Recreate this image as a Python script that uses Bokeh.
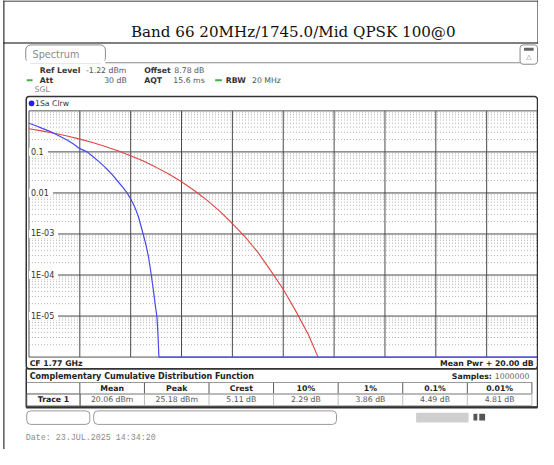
from bokeh.plotting import figure
from bokeh.models import Range1d, LogScale, LinearScale
from bokeh.core.properties import value
from bokeh.embed import file_html
from bokeh.resources import INLINE

# ---------------- data ----------------
title_text = "Band 66 20MHz/1745.0/Mid QPSK 100@0"

# measured trace (blue): x = dB above mean power, y = probability
blue_db = [0.0, 0.25, 0.5, 0.75, 1.0, 1.25, 1.5, 1.75, 2.0, 2.29, 2.5, 2.75,
           3.0, 3.25, 3.5, 3.7, 3.86, 4.0, 4.15, 4.3, 4.49, 4.6, 4.7, 4.81,
           4.9, 4.97, 5.03, 5.07, 5.11, 20.0]
blue_ccdf = [0.50, 0.44, 0.38, 0.33, 0.28, 0.235, 0.195, 0.155, 0.12, 0.10,
             0.078, 0.058, 0.042, 0.029, 0.019, 0.0135, 0.010, 0.0072, 0.0047,
             0.0027, 0.0010, 0.00055, 0.00028, 0.0001, 4.0e-5, 1.8e-5, 1.0e-5,
             4.0e-6, 1.0e-6, 1.0e-6]

# reference trace (red)
red_db = [0.0, 0.5, 1.0, 1.5, 2.0, 2.5, 3.0, 3.5, 4.0, 4.5, 5.0, 5.5, 6.0,
          6.5, 7.0, 7.5, 8.0, 8.5, 9.0, 9.5, 10.0, 10.5, 11.0, 11.37]
red_ccdf = [0.368, 0.326, 0.284, 0.243, 0.205, 0.169, 0.136, 0.107, 0.081,
            0.060, 0.042, 0.029, 0.0187, 0.0115, 0.0067, 0.0036, 0.0018,
            0.00085, 0.00036, 0.00013, 4.5e-5, 1.3e-5, 3.4e-6, 1.0e-6]

x_min_db, x_max_db = 0.0, 20.0
y_min_p, y_max_p = 1e-6, 1.0
x_grid_db = [2, 4, 6, 8, 10, 12, 14, 16, 18]
y_tick_values = [0.1, 0.01, 0.001, 0.0001, 0.00001]
y_tick_labels = ["0.1", "0.01", "1E-03", "1E-04", "1E-05"]

stat_headers = ["Mean", "Peak", "Crest", "10%", "1%", "0.1%", "0.01%"]
stat_values = ["20.06 dBm", "25.18 dBm", "5.11 dB", "2.29 dB", "3.86 dB",
               "4.49 dB", "4.81 dB"]

# ---------------- geometry ----------------
# the figure's own ranges are expressed in the reference's pixel units
W, H = 538, 449
RW, RH = 554, 465
FS = (W / RW + H / RH) / 2          # font scale
G_L, G_R, G_T, G_B = 29.3, 553.0, 114.3, 369.3   # grid area

p = figure(width=W, height=H, title=None,
           x_range=Range1d(0, RW), y_range=Range1d(RH, 0),
           x_axis_location=None, y_axis_location=None,
           toolbar_location=None, output_backend="svg", min_border=0,
           background_fill_color="white", border_fill_color="white",
           outline_line_color=None)
p.xgrid.visible = False
p.ygrid.visible = False

ppdb = (G_R - G_L) / (x_max_db - x_min_db)
ppdec = (G_B - G_T) / 6.0
p.extra_x_ranges = {"db": Range1d(x_min_db - G_L / ppdb,
                                  x_max_db + (RW - G_R) / ppdb)}
p.extra_x_scales = {"db": LinearScale()}
p.extra_y_ranges = {"ccdf": Range1d(y_min_p * 10 ** (-(RH - G_B) / ppdec),
                                    y_max_p * 10 ** (G_T / ppdec))}
p.extra_y_scales = {"ccdf": LogScale()}
D = dict(x_range_name="db", y_range_name="ccdf")


def Q(x0, x1, y0, y1, fill=None, line=None, lw=1, r=0):
    p.quad(left=x0, right=x1, top=y0, bottom=y1,
           fill_color=fill, fill_alpha=1.0 if fill else 0.0,
           line_color=line, line_width=lw, border_radius=r)


def T(rx, ry, text, size=8, bold=False, color="#333333", align="left",
      font="DejaVu Sans", baseline="middle"):
    p.text(x=[rx], y=[ry], text=[text], text_font=value(font),
           text_font_size=value(f"{size * FS:.2f}px"),
           text_font_style=value("bold" if bold else "normal"),
           text_color=color, text_align=value(align),
           text_baseline=value(baseline))


# ---------------- grid ----------------
minor_y = [k * 10.0 ** e for e in range(-6, 0) for k in range(2, 10)]
p.segment(x0=[x_min_db] * len(minor_y), x1=[x_max_db] * len(minor_y),
          y0=minor_y, y1=minor_y, line_color="#b4b4b4", line_width=1,
          line_dash="1 2", **D)
p.segment(x0=x_grid_db, x1=x_grid_db, y0=[y_min_p] * len(x_grid_db),
          y1=[y_max_p] * len(x_grid_db), line_color="#4a4a4a",
          line_width=1, **D)
p.segment(x0=[x_min_db] * len(y_tick_values),
          x1=[x_max_db] * len(y_tick_values), y0=y_tick_values,
          y1=y_tick_values, line_color="#4a4a4a", line_width=1, **D)
p.quad(left=x_min_db, right=x_max_db, top=y_max_p, bottom=y_min_p,
       fill_color=None, line_color="#555555", line_width=1, **D)

# white plates (sized to each label) + tick labels inside the grid
plate_w = [(4 + 5.2 * len(t)) / ppdb for t in y_tick_labels]
p.quad(left=[x_min_db] * len(y_tick_values),
       right=[x_min_db + w for w in plate_w],
       top=[v * 10 ** 0.1 for v in y_tick_values],
       bottom=[v * 10 ** -0.1 for v in y_tick_values],
       fill_color="white", line_color=None, **D)
p.text(x=[x_min_db] * len(y_tick_values), y=y_tick_values,
       text=y_tick_labels, x_offset=2, text_baseline="middle",
       text_font=value("DejaVu Sans"), text_font_size=f"{8.3 * FS:.2f}px",
       text_color="#333333", **D)

# ---------------- traces ----------------
p.line(red_db, red_ccdf, line_color="#e04444", line_width=1.1, **D)
p.line(blue_db, blue_ccdf, line_color="#4848f0", line_width=1.2, **D)

# ---------------- report cell ----------------
Q(3, 4, 0, RH, fill="#000000")
Q(553, 554, 0, 44.5, fill="#000000")
Q(3, RW, 0, 1, fill="#000000")
Q(3, RW, 43.5, 44.5, fill="#000000")
T(301.5, 33, title_text, size=15.6, color="#111111", align="center",
  font="DejaVu Serif", baseline="alphabetic")

# instrument panel: tab + icon
Q(108, 535, 64, 65, fill="#8a8a8a")
Q(26, 108, 46, 64.5, fill="white", line="#8a8a8a", lw=1, r=5)
Q(27, 107, 60, 65, fill="white")
T(33, 56, "Spectrum", size=10, color="#8a8a8a")
Q(535, 553, 46, 66, fill="white", line="#8a8a8a", lw=1, r=3)
Q(539, 549, 49, 52, fill="#666666")
T(544, 58.5, "\u25b3", size=7, color="#777777", align="center")

# header
T(40.5, 72.5, "Ref Level", bold=True)
T(88, 72.5, "-1.22 dBm", color="#555555")
T(148, 72.5, "Offset", bold=True)
T(179, 72.5, "8.78 dB", color="#555555")
Q(27, 33, 81.5, 83.5, fill="#44b044")
T(40.5, 82.5, "Att", bold=True)
T(130, 82.5, "30 dB", color="#555555", align="right")
T(148, 82.5, "AQT", bold=True)
T(178, 82.5, "15.6 ms", color="#555555")
Q(221, 228, 81.5, 83.5, fill="#44b044")
T(232, 82.5, "RBW", bold=True)
T(259, 82.5, "20 MHz", color="#555555")
T(35, 92, "SGL", color="#888888")

# plot box
Q(26.5, 553, 99.5, 381.5, line="#333333", lw=1.5, r=3)
Q(29, 35, 103.5, 109.5, fill="#2020e0", r=3)
T(35.5, 106.5, "1Sa Clrw", color="#333333")
T(30, 375.5, "CF 1.77 GHz", bold=True, color="#222222")
T(549, 375.5, "Mean Pwr + 20.00 dB", bold=True, color="#222222",
  align="right")

# CCDF statistics table
Q(26.5, 553, 381.5, 421, line="#333333", lw=1.5)
Q(26.5, 553, 420.5, 422.5, fill="#333333")
T(30, 389, "Complementary Cumulative Distribution Function", size=8.3,
  bold=True, color="#222222")
T(506, 389, "Samples:", bold=True, color="#222222", align="right")
T(509, 389, "1000000", color="#666666")
col_w = 66.5
col0 = 81.7
Q(27, 547.5, 395, 396, fill="#777777")
Q(col0, 547.5, 407, 408, fill="#777777")
Q(col0, 547.5, 419, 420, fill="#bbbbbb")
for k in range(len(stat_headers) + 1):
    xk = col0 + k * col_w
    Q(xk - 0.5, xk + 0.5, 396, 407, fill="#555555")
    Q(xk - 0.5, xk + 0.5, 408, 419, fill="#bbbbbb")
for k, (hdr, val) in enumerate(zip(stat_headers, stat_values)):
    xc = col0 + (k + 0.5) * col_w
    T(xc, 401.5, hdr, bold=True, color="#222222", align="center")
    T(xc, 413.5, val, color="#555555", align="center")
Q(27, 82, 407.5, 420, line="#555555", lw=1)
T(54.5, 413.5, "Trace 1", bold=True, color="#222222", align="center")

# status bar
Q(27, 92, 425, 439, fill="white", line="#9a9a9a", lw=1, r=4)
Q(96, 346, 425, 439, fill="white", line="#9a9a9a", lw=1, r=4)
Q(428, 482, 427, 437, fill="#cfcfcf")
Q(487, 491, 428, 435, fill="#555555")
Q(493, 499, 428, 435, fill="#555555")

T(26, 453, "Date: 23.JUL.2025  14:34:20", size=8.6, color="#8c8c8c",
  font="Liberation Mono")

open("out.html", "w").write(file_html(p, INLINE))
